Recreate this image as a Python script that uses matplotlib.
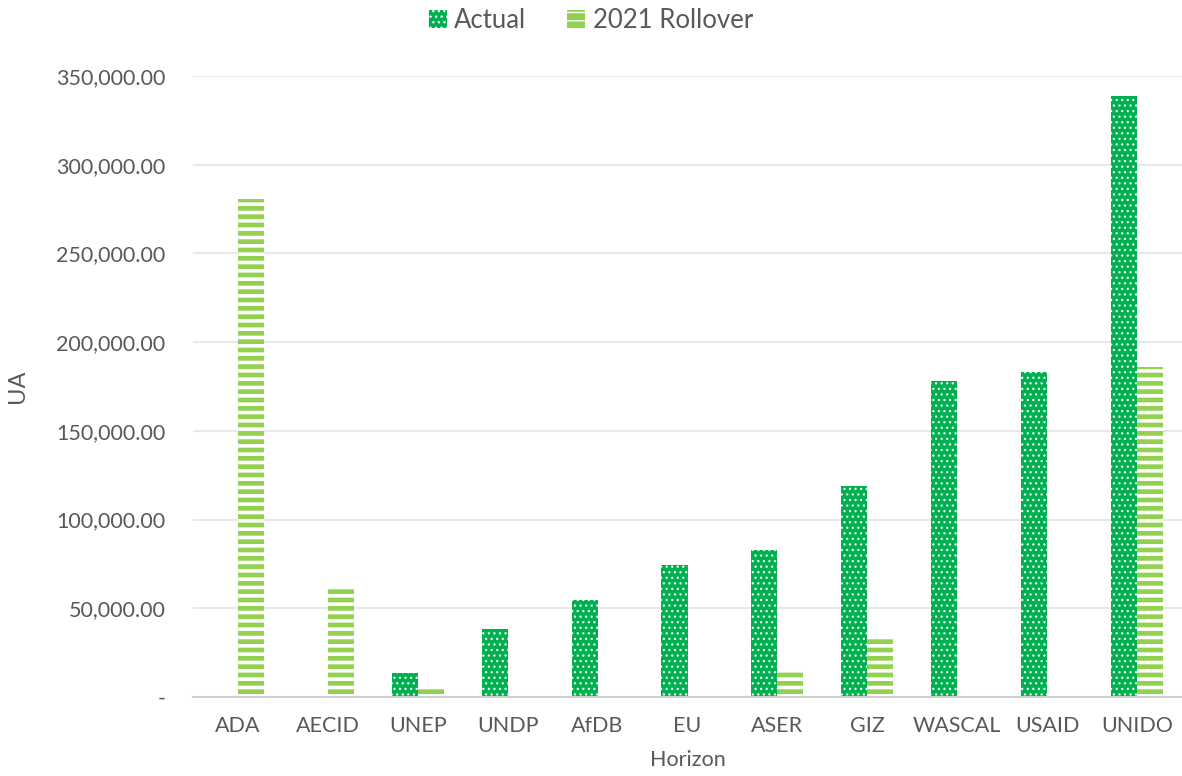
import matplotlib
matplotlib.use("Agg")
import matplotlib.pyplot as plt
import numpy as np
from matplotlib.ticker import FuncFormatter

categories = ["ADA", "AECID", "UNEP", "UNDP", "AfDB", "EU", "ASER", "GIZ", "WASCAL", "USAID", "UNIDO"]
actual = [0, 0, 13500, 38300, 54700, 74400, 82900, 118900, 178100, 183200, 338700]
rollover = [280700, 62000, 4500, 0, 0, 0, 15800, 33800, 0, 0, 186000]
series_names = ["Actual", "2021 Rollover"]

plt.rcParams['font.family'] = ['Lato', 'DejaVu Sans']

fig = plt.figure(figsize=(11.82, 7.76), dpi=100)
ax = fig.add_axes([193/1182, 1-697/776, (1182-193)/1182, (697-76)/776])

x = np.arange(len(categories))
w = 0.29
dark = '#00B050'
light = '#92D050'

with plt.rc_context({'hatch.linewidth': 0.9}):
    b1 = ax.bar(x - w/2, actual, w, color=dark, edgecolor='#E8F8EE', hatch='...', linewidth=0, label=series_names[0])
with plt.rc_context({'hatch.linewidth': 2.6}):
    b2 = ax.bar(x + w/2, rollover, w, color=light, edgecolor='white', hatch='--', linewidth=0, label=series_names[1])

ax.set_xlim(-0.5, len(categories) - 0.5)
ax.set_ylim(0, 350000)
ax.set_yticks(np.arange(0, 350001, 50000))

def fmt(v, p):
    if v == 0:
        return "-"
    return f"{v:,.2f}"
ax.yaxis.set_major_formatter(FuncFormatter(fmt))
ax.set_xticks(x)
ax.set_xticklabels(categories)

ax.grid(axis='y', color='#E8E8E8', linewidth=1.5)
ax.set_axisbelow(True)
for s in ['top', 'right', 'left']:
    ax.spines[s].set_visible(False)
ax.spines['bottom'].set_color('#D0D0D0')
ax.spines['bottom'].set_linewidth(1.5)
ax.tick_params(axis='both', length=0, labelsize=15.5, colors='#595959')
ax.tick_params(axis='y', pad=20)
ax.tick_params(axis='x', pad=14)

ax.set_ylabel("UA", fontsize=17, color='#595959', labelpad=20)
ax.set_xlabel("Horizon", fontsize=15.5, color='#595959', labelpad=10)

fig.legend(handles=[b1, b2], labels=series_names, loc='upper center', bbox_to_anchor=(0.5, 1.02),
           ncol=2, frameon=False, fontsize=18.5, labelcolor='#595959', handlelength=0.7, handleheight=0.7,
           handletextpad=0.3, columnspacing=1.6)

fig.savefig("out.png", dpi=100)
